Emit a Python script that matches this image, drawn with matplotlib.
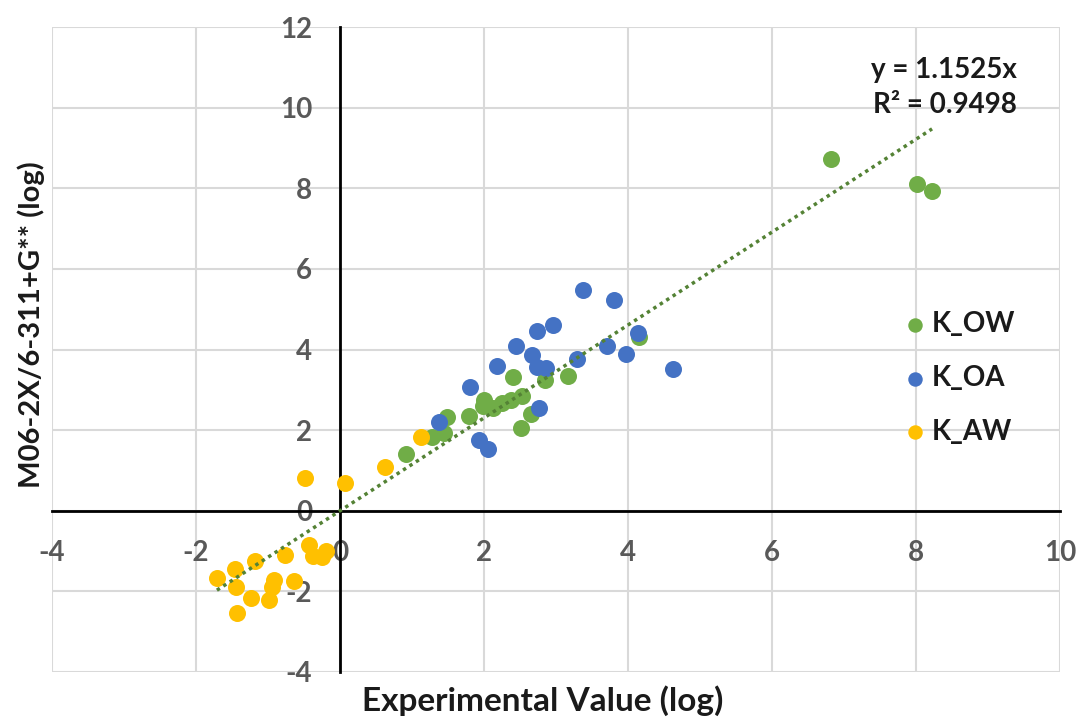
import numpy as np
import matplotlib.pyplot as plt

# log partition coefficients: experimental vs computed
kow_x = [0.91, 1.28, 1.44, 1.49, 1.79, 1.98, 2.00, 2.12, 2.25, 2.37, 2.53, 2.40,
         2.51, 2.65, 2.84, 3.16, 4.15, 6.81, 8.01, 8.22]
kow_y = [1.41, 1.84, 1.94, 2.32, 2.34, 2.59, 2.75, 2.55, 2.67, 2.75, 2.84, 3.31,
         2.05, 2.41, 3.25, 3.35, 4.31, 8.73, 8.11, 7.92]

koa_x = [3.38, 3.81, 2.95, 2.73, 2.44, 4.13, 3.71, 3.97, 2.66, 3.29, 2.74, 2.86,
         2.18, 4.62, 1.81, 2.76, 1.37, 1.93, 2.06]
koa_y = [5.48, 5.24, 4.62, 4.45, 4.09, 4.42, 4.09, 3.90, 3.87, 3.76, 3.57, 3.54,
         3.58, 3.52, 3.07, 2.55, 2.20, 1.76, 1.53]

kaw_x = [-0.48, 0.07, 0.62, 1.13, -0.43, -0.38, -0.20, -0.25, -0.76, -1.18, -1.46,
         -1.71, -1.45, -0.92, -0.95, -0.64, -1.23, -0.98, -1.43]
kaw_y = [0.81, 0.69, 1.08, 1.84, -0.84, -1.13, -1.01, -1.15, -1.09, -1.24, -1.45,
         -1.67, -1.88, -1.73, -1.88, -1.75, -2.17, -2.21, -2.54]

slope = 1.1525
r2 = 0.9498

plt.rcParams['font.family'] = ['Lato', 'DejaVu Sans']
plt.rcParams['axes.unicode_minus'] = False

fig = plt.figure(figsize=(10.83, 7.19), dpi=100)
ax = fig.add_axes([0.048, 0.0654, 0.931, 0.897])

ax.scatter(kow_x, kow_y, s=150, color='#70AD47', label='K_OW', zorder=3, linewidths=0)
ax.scatter(koa_x, koa_y, s=150, color='#4472C4', label='K_OA', zorder=3, linewidths=0)
ax.scatter(kaw_x, kaw_y, s=150, color='#FFC000', label='K_AW', zorder=3, linewidths=0)

# trend line through origin over the full data range
all_x = kow_x + koa_x + kaw_x
tx = np.array([min(all_x), max(all_x)])
ax.plot(tx, slope * tx, color='#548235', lw=2.5, ls=(0, (1, 1.2)), zorder=4)

ax.set_xlim(-4, 10)
ax.set_ylim(-4, 12)
ax.set_xticks(range(-4, 11, 2))
ax.set_yticks(range(-4, 13, 2))
ax.grid(True, color='#D9D9D9', lw=1.5, zorder=0)
ax.set_axisbelow(True)

for side in ['top', 'right']:
    ax.spines[side].set_visible(False)
ax.spines['left'].set_position(('data', 0))
ax.spines['bottom'].set_position(('data', 0))
for side in ['left', 'bottom']:
    ax.spines[side].set_color('black')
    ax.spines[side].set_linewidth(2)
    ax.spines[side].set_zorder(2)

ax.tick_params(axis='y', length=0, pad=20, labelsize=20, labelcolor='#595959')
ax.tick_params(axis='x', length=0, pad=21, labelsize=20, labelcolor='#595959')
for lbl in ax.get_xticklabels() + ax.get_yticklabels():
    lbl.set_fontweight('bold')

fig.text(0.501, 0.026, 'Experimental Value (log)', ha='center', va='center',
         fontsize=24, fontweight='bold', color='#1a1a1a')
fig.text(0.029, 0.548, 'M06-2X/6-311+G** (log)', ha='center', va='center',
         rotation=90, fontsize=21, fontweight='bold', color='#1a1a1a')

ax.text(9.40, 10.5, 'y = 1.1525x\nR² = 0.9498', ha='right', va='center',
        fontsize=20, fontweight='bold', color='#1a1a1a', linespacing=1.45)

leg = ax.legend(loc='center left', bbox_to_anchor=(0.815, 0.456), frameon=False,
                fontsize=20, handletextpad=0.0, labelspacing=1.0, markerscale=0.85,
                handlelength=1.2)
for t in leg.get_texts():
    t.set_fontweight('bold')
    t.set_color('#1a1a1a')

fig.savefig('out.png', dpi=100)
